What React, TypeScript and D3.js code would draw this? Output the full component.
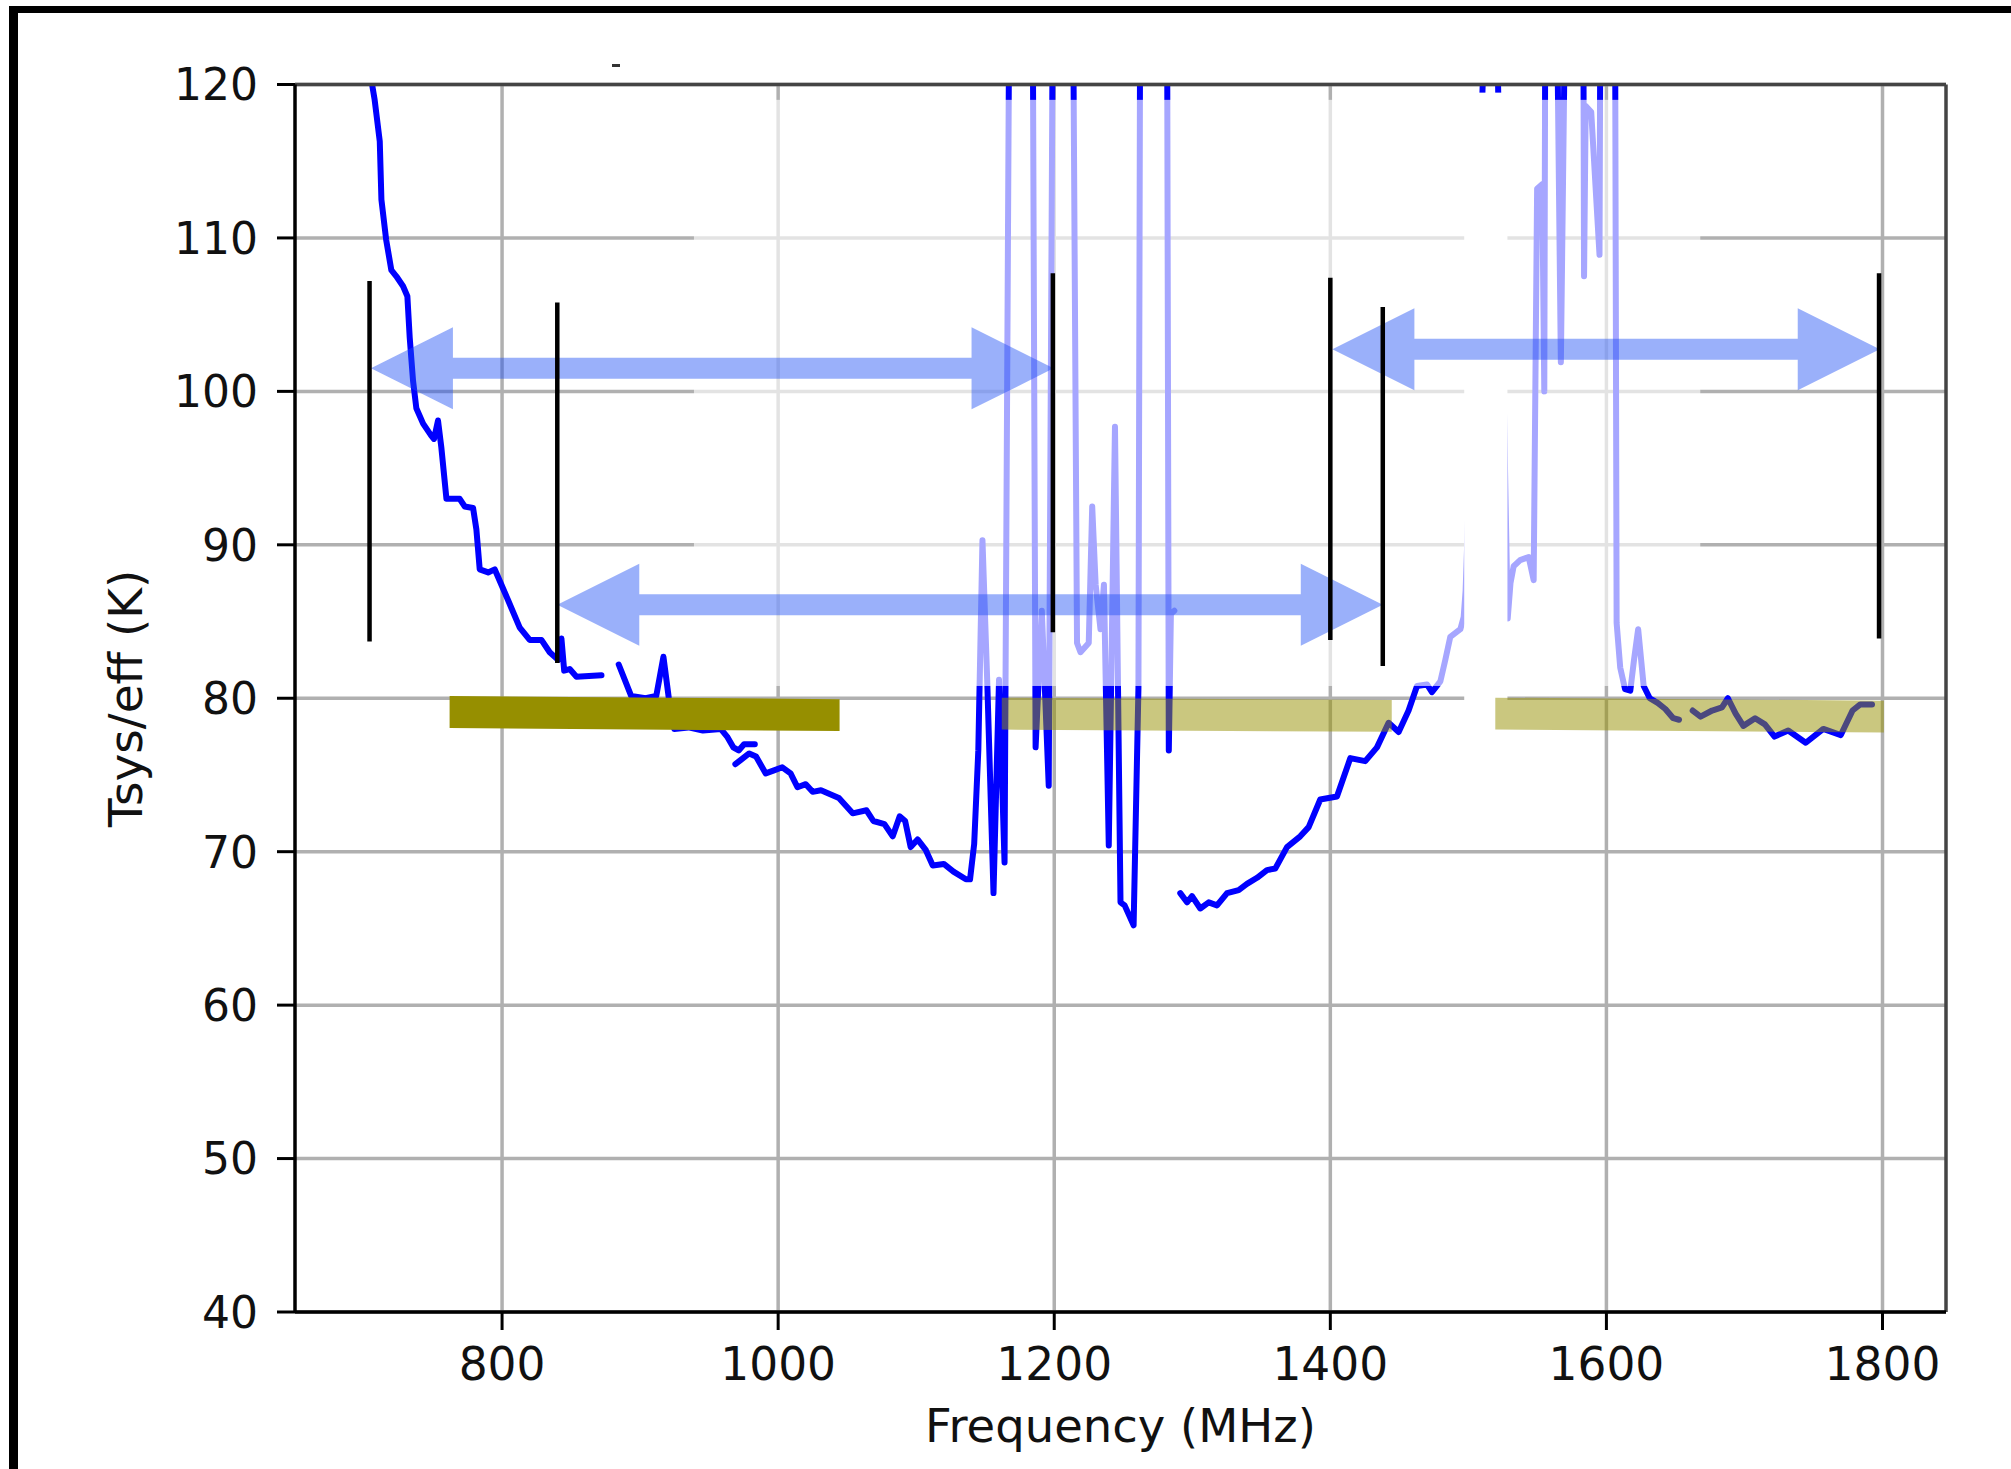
import React from 'react';
import * as d3 from 'd3';

const W = 2011;
const H = 1469;
const M = { left: 295, right: 1946, top: 84.5, bottom: 1312 };

const xTicks = [800, 1000, 1200, 1400, 1600, 1800];
const yTicks = [40, 50, 60, 70, 80, 90, 100, 110, 120];

// Tsys/eff traces, [MHz, K]. 135 = runs off the top of the axes
const traceA: [number, number][] = [
  [704, 121], [707.7, 119], [711.4, 116.3], [712.6, 112.5], [716, 109.9], [719.8, 107.9],
  [723.4, 107.5], [728.3, 106.85], [731.4, 106.2], [733.1, 103.5], [735.5, 100.7], [737.9, 98.9],
  [742.8, 97.9], [748.8, 97.1], [750.7, 96.9], [753.6, 98.1], [756, 96.35], [759.7, 93.0],
  [769.3, 93.0], [772.9, 92.5], [779, 92.4], [781.4, 91], [783.8, 88.4], [789.9, 88.2],
  [794.7, 88.4], [797.1, 87.9], [804.3, 86.4], [812.8, 84.6], [820, 83.8], [828.5, 83.8],
  [834.5, 83.0], [840.6, 82.5], [843, 83.9], [845, 81.8], [849, 81.9], [853.9, 81.4], [872, 81.5],
];
const traceB: [number, number][] = [
  [884.5, 82.2], [893.5, 80.15], [903.9, 80.0], [911.7, 80.15], [916.9, 82.7], [920.8, 80.0],
  [924.7, 78.0], [935, 78.1], [945.5, 77.9], [958.4, 78.0], [963, 77.5], [967.5, 76.8],
  [971.4, 76.6], [975.3, 77.0], [983.1, 77.0],
];
const traceC: [number, number][] = [
  [969, 75.7], [979, 76.4], [984, 76.2], [991, 75.1], [997, 75.3], [1003, 75.5], [1009, 75.1],
  [1014, 74.2], [1020, 74.4], [1025, 73.9], [1031, 74.0], [1044, 73.5], [1054, 72.5], [1064, 72.7],
  [1069, 72.0], [1077, 71.8], [1083, 71.0], [1088, 72.3], [1092, 72.0], [1096, 70.3], [1101, 70.8],
  [1107, 70.1], [1112, 69.1], [1120, 69.2], [1127, 68.7], [1136, 68.2], [1139, 68.2], [1142, 70.5],
  [1145, 76.6], [1148, 90.3], [1151.5, 81.0], [1156, 67.3], [1160, 81.2], [1164, 69.3], [1168, 135],
  [1184, 135], [1186.5, 76.8], [1191, 85.7], [1196, 74.3], [1199.5, 135], [1213, 135],
  [1216.5, 83.6], [1219, 83.0], [1225, 83.6], [1227.5, 92.5], [1230, 87.4], [1233.5, 84.5],
  [1236, 87.4], [1239.5, 70.4], [1244, 97.7], [1248, 66.7], [1251, 66.5], [1257.5, 65.2],
  [1261, 80.7], [1262.5, 135], [1281.5, 135], [1283, 76.6], [1284.5, 85.5], [1287, 85.7],
];
const traceD: [number, number][] = [
  [1291.3, 67.3], [1296.2, 66.7], [1299.8, 67.1], [1305.8, 66.3], [1311.9, 66.7], [1317.9, 66.5],
  [1325.2, 67.3], [1333.6, 67.5], [1339.6, 67.9], [1346.9, 68.3], [1354.1, 68.8], [1360.1, 68.9],
  [1368.6, 70.3], [1378.2, 71.0], [1384.3, 71.6], [1392.7, 73.4], [1404.8, 73.6], [1414.5, 76.1],
  [1425.3, 75.9], [1433.8, 76.8], [1442.2, 78.4], [1449.5, 77.8], [1456.7, 79.2], [1462.8, 80.8],
  [1470, 80.9], [1473.6, 80.4], [1479.7, 81.1], [1483.3, 82.5], [1486.9, 84.0], [1494.2, 84.5],
  [1496.6, 85.3], [1498, 87], [1516, 135], [1518.5, 135], [1528.5, 85.2], [1530.5, 87.5],
  [1532.8, 88.6], [1537.5, 89.0], [1543.7, 89.2], [1547.3, 87.7], [1549.8, 113.2], [1553.5, 113.5],
  [1555, 100], [1556, 135], [1563, 135], [1567, 101.9], [1571.4, 135], [1583, 135], [1583.8, 107.5],
  [1585, 118.6], [1589, 118.2], [1595, 108.9], [1596, 135], [1606, 135], [1607.4, 84.9],
  [1610, 82.0], [1613.5, 80.6], [1617.3, 80.5], [1620, 82.5], [1623, 84.5], [1627, 80.8],
  [1631.4, 80.0], [1637.1, 79.7], [1642.7, 79.3], [1648.4, 78.7], [1652.6, 78.6],
];
const traceE: [number, number][] = [
  [1662.5, 79.2], [1668.2, 78.8], [1676.6, 79.2], [1683.7, 79.4], [1688, 80.0], [1693.6, 79.0],
  [1699.2, 78.2], [1707.7, 78.7], [1714.8, 78.3], [1721.8, 77.5], [1731.7, 77.9], [1744.4, 77.1],
  [1757.1, 78.0], [1769.8, 77.6], [1778.3, 79.2], [1783.9, 79.6], [1792.4, 79.6],
];
const traces = [traceA, traceB, traceC, traceD, traceE];

// band edge markers
const edgeFreq = [704, 840, 1199, 1400, 1438, 1797.5];
const edgeTop = [107.2, 105.8, 107.7, 107.4, 105.5, 107.7];
const edgeBottom = [83.7, 82.3, 84.3, 83.8, 82.1, 83.9];

// band arrows
const arrowFrom = [705, 840, 1401.5];
const arrowTo = [1199.5, 1438, 1798];
const arrowLevel = [101.5, 86.1, 102.75];

// spec bars (level at each end, K)
const barFrom = [762, 1162, 1519.5];
const barTo = [1044.5, 1444.5, 1801];
const barLevelFrom = [79.1, 79.0, 79.0];
const barLevelTo = [78.9, 78.85, 78.8];
const barHalf = 1.04;

// faded and blanked areas of the original figure
const fadeFreq = [939, 1668];
const fadeLevel = [80.8, 119];
const blankFreq = [1497, 1528.3];
const blankLevel = [79.86, 119.47];

const App = () => {
  const x = d3.scaleLinear().domain([650, 1846]).range([M.left, M.right]);
  const y = d3.scaleLinear().domain([40, 120]).range([M.bottom, M.top]);
  const line = d3.line<[number, number]>().x(d => x(d[0])).y(d => y(d[1]));

  const headLen = 82, headHalf = 41, shaftHalf = 10.5;
  const arrowPts = (i: number) => {
    const x0 = x(arrowFrom[i]), x1 = x(arrowTo[i]), c = y(arrowLevel[i]);
    return [
      [x0, c], [x0 + headLen, c - headHalf], [x0 + headLen, c - shaftHalf],
      [x1 - headLen, c - shaftHalf], [x1 - headLen, c - headHalf], [x1, c],
      [x1 - headLen, c + headHalf], [x1 - headLen, c + shaftHalf],
      [x0 + headLen, c + shaftHalf], [x0 + headLen, c + headHalf],
    ].map(p => p.join(',')).join(' ');
  };
  const barPts = (i: number) => [
    [x(barFrom[i]), y(barLevelFrom[i] + barHalf)],
    [x(barTo[i]), y(barLevelTo[i] + barHalf)],
    [x(barTo[i]), y(barLevelTo[i] - barHalf)],
    [x(barFrom[i]), y(barLevelFrom[i] - barHalf)],
  ].map(p => p.join(',')).join(' ');

  return (
    <svg width={W} height={H} style={{ position: 'absolute', left: 0, top: 0, display: 'block' }}
      fontFamily="'DejaVu Sans', sans-serif">
      <defs>
        <clipPath id="plotArea">
          <rect x={M.left} y={M.top} width={M.right - M.left} height={M.bottom - M.top} />
        </clipPath>
      </defs>
      <rect width={W} height={H} fill="#fff" />

      {/* grid */}
      {xTicks.map(t => (
        <line key={'gx' + t} x1={x(t)} x2={x(t)} y1={M.top} y2={M.bottom} stroke="#b0b0b0" strokeWidth={3.5} />
      ))}
      {yTicks.map(t => (
        <line key={'gy' + t} x1={M.left} x2={M.right} y1={y(t)} y2={y(t)} stroke="#b0b0b0" strokeWidth={3.5} />
      ))}

      {/* curve */}
      <g clipPath="url(#plotArea)">
        {traces.map((tr, i) => (
          <path key={'tr' + i} d={line(tr) || ''} fill="none" stroke="#0000ff" strokeWidth={6}
            strokeLinejoin="round" strokeLinecap="round" />
        ))}
      </g>

      {/* fade + blank */}
      <rect x={x(fadeFreq[0])} y={y(fadeLevel[1])} width={x(fadeFreq[1]) - x(fadeFreq[0])}
        height={y(fadeLevel[0]) - y(fadeLevel[1])} fill="#fff" opacity={0.65} />
      <rect x={x(blankFreq[0])} y={y(blankLevel[1])} width={x(blankFreq[1]) - x(blankFreq[0])}
        height={y(blankLevel[0]) - y(blankLevel[1])} fill="#fff" />

      {/* spines and ticks */}
      <line x1={M.left} x2={M.right} y1={M.top} y2={M.top} stroke="#444" strokeWidth={3.5} />
      <line x1={M.right} x2={M.right} y1={M.top} y2={M.bottom} stroke="#444" strokeWidth={3.5} />
      <line x1={M.left} x2={M.left} y1={M.top} y2={M.bottom} stroke="#000" strokeWidth={3.5} />
      <line x1={M.left} x2={M.right} y1={M.bottom} y2={M.bottom} stroke="#000" strokeWidth={3.5} />
      {yTicks.map(t => (
        <g key={'ty' + t}>
          <line x1={M.left - 18} x2={M.left} y1={y(t)} y2={y(t)} stroke="#000" strokeWidth={3} />
          <text x={258} y={y(t)} dy="0.36em" textAnchor="end" fontSize={44} fill="#111">{t}</text>
        </g>
      ))}
      {xTicks.map(t => (
        <g key={'tx' + t}>
          <line x1={x(t)} x2={x(t)} y1={M.bottom} y2={M.bottom + 18} stroke="#000" strokeWidth={3} />
          <text x={x(t)} y={1380} textAnchor="middle" fontSize={45.5} fill="#111">{t}</text>
        </g>
      ))}
      <text x={(M.left + M.right) / 2} y={1442} textAnchor="middle" fontSize={46.5} fill="#111">Frequency (MHz)</text>
      <text transform={`translate(142, ${(M.top + M.bottom) / 2}) rotate(-90)`} textAnchor="middle"
        fontSize={47} fill="#111">Tsys/eff (K)</text>

      {/* spec bars */}
      {barFrom.map((_, i) => (
        <polygon key={'bar' + i} points={barPts(i)} fill="rgb(150,143,0)" fillOpacity={i === 0 ? 1 : 0.5} />
      ))}

      {/* arrows */}
      {arrowFrom.map((_, i) => (
        <polygon key={'ar' + i} points={arrowPts(i)} fill="rgb(30,80,245)" fillOpacity={0.45} />
      ))}

      {/* band edges */}
      {edgeFreq.map((f, i) => (
        <line key={'edge' + i} x1={x(f)} x2={x(f)} y1={y(edgeTop[i])} y2={y(edgeBottom[i])}
          stroke="#000" strokeWidth={4.5} />
      ))}

      {/* stray mark and outer frame */}
      <rect x={612} y={64} width={8} height={3} fill="#333" />
      <rect x={9} y={6} width={9} height={H} fill="#000" />
      <rect x={9} y={6} width={W} height={7} fill="#000" />
    </svg>
  );
};

export default App;
